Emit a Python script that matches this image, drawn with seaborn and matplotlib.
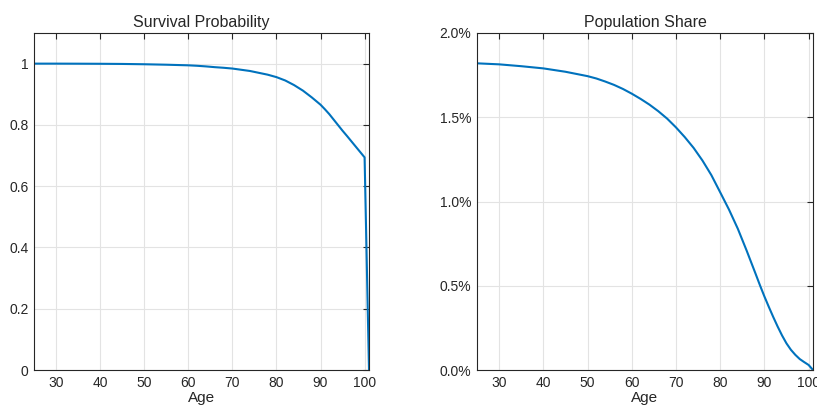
import matplotlib
matplotlib.use("Agg")
import matplotlib.pyplot as plt
from matplotlib.ticker import FuncFormatter
import pandas as pd
import seaborn as sns

# Survival probability by age
surv_age = [25, 30, 35, 40, 45, 50, 55, 60, 62, 64, 66, 68, 70, 72, 74, 76,
            78, 80, 82, 84, 86, 88, 90, 91, 92, 93, 94, 95, 96, 97, 98, 99,
            100, 101]
surv_prob = [1.0, 1.0, 0.9998, 0.9995, 0.999, 0.998, 0.9965, 0.9945, 0.993,
             0.991, 0.9885, 0.9865, 0.984, 0.980, 0.976, 0.970, 0.964, 0.956,
             0.945, 0.930, 0.912, 0.890, 0.866, 0.851, 0.835, 0.817, 0.799,
             0.781, 0.764, 0.7465, 0.729, 0.7115, 0.694, 0.0]

# Population share by age (percent)
share_age = [25, 30, 35, 40, 45, 50, 52, 54, 56, 58, 60, 62, 64, 66, 68, 70,
             72, 74, 76, 78, 80, 82, 84, 86, 88, 89, 90, 91, 92, 93, 94, 95,
             96, 97, 98, 99, 100, 101]
share_pct = [1.82, 1.814, 1.803, 1.79, 1.770, 1.744, 1.73, 1.712, 1.692,
             1.668, 1.64, 1.609, 1.575, 1.536, 1.492, 1.44, 1.382, 1.318,
             1.243, 1.157, 1.055, 0.952, 0.838, 0.708, 0.572, 0.503, 0.437,
             0.375, 0.315, 0.258, 0.205, 0.158, 0.12, 0.09, 0.065, 0.047,
             0.03, 0.0]

x_ticks = [30, 40, 50, 60, 70, 80, 90, 100]
surv_ticks = [0, 0.2, 0.4, 0.6, 0.8, 1.0]
share_ticks = [0.0, 0.5, 1.0, 1.5, 2.0]

sns.set_theme(style="white")
plt.rcParams["font.family"] = ["Liberation Sans", "DejaVu Sans"]

ink = "#262626"
line_color = "#0072BD"

surv_df = pd.DataFrame({"Age": surv_age, "Survival": surv_prob})
share_df = pd.DataFrame({"Age": share_age, "Share": share_pct})

fig = plt.figure(figsize=(8.17, 4.09), dpi=100)
ax1 = fig.add_axes([34 / 817, 39 / 409, 335 / 817, 337 / 409])
ax2 = fig.add_axes([477 / 817, 39 / 409, 336 / 817, 337 / 409])

sns.lineplot(data=surv_df, x="Age", y="Survival", ax=ax1, color=line_color,
             linewidth=1.5)
sns.lineplot(data=share_df, x="Age", y="Share", ax=ax2, color=line_color,
             linewidth=1.5)

ax1.set_ylim(0, 1.1)
ax1.set_yticks(surv_ticks)
ax1.yaxis.set_major_formatter(FuncFormatter(lambda v, p: f"{v:g}"))
ax1.set_title("Survival Probability", fontsize=11.5, color=ink, pad=4)

ax2.set_ylim(0, 2.0)
ax2.set_yticks(share_ticks)
ax2.yaxis.set_major_formatter(FuncFormatter(lambda v, p: f"{v:.1f}%"))
ax2.set_title("Population Share", fontsize=11.5, color=ink, pad=4)

for ax in (ax1, ax2):
    ax.set_xlim(25, 101)
    ax.set_xticks(x_ticks)
    ax.set_xlabel("Age", fontsize=11, color=ink, labelpad=1)
    ax.set_ylabel("")
    ax.grid(True, color="#e3e3e3", linewidth=0.8)
    ax.set_axisbelow(True)
    ax.tick_params(direction="in", length=4, width=0.8, colors=ink,
                   labelsize=10, top=True, right=True, pad=4)
    ax.tick_params(axis="both", labelcolor=ink)
    for side in ("left", "right", "top", "bottom"):
        ax.spines[side].set_visible(True)
        ax.spines[side].set_color(ink)
        ax.spines[side].set_linewidth(0.8)

fig.savefig("out.png", dpi=100)
